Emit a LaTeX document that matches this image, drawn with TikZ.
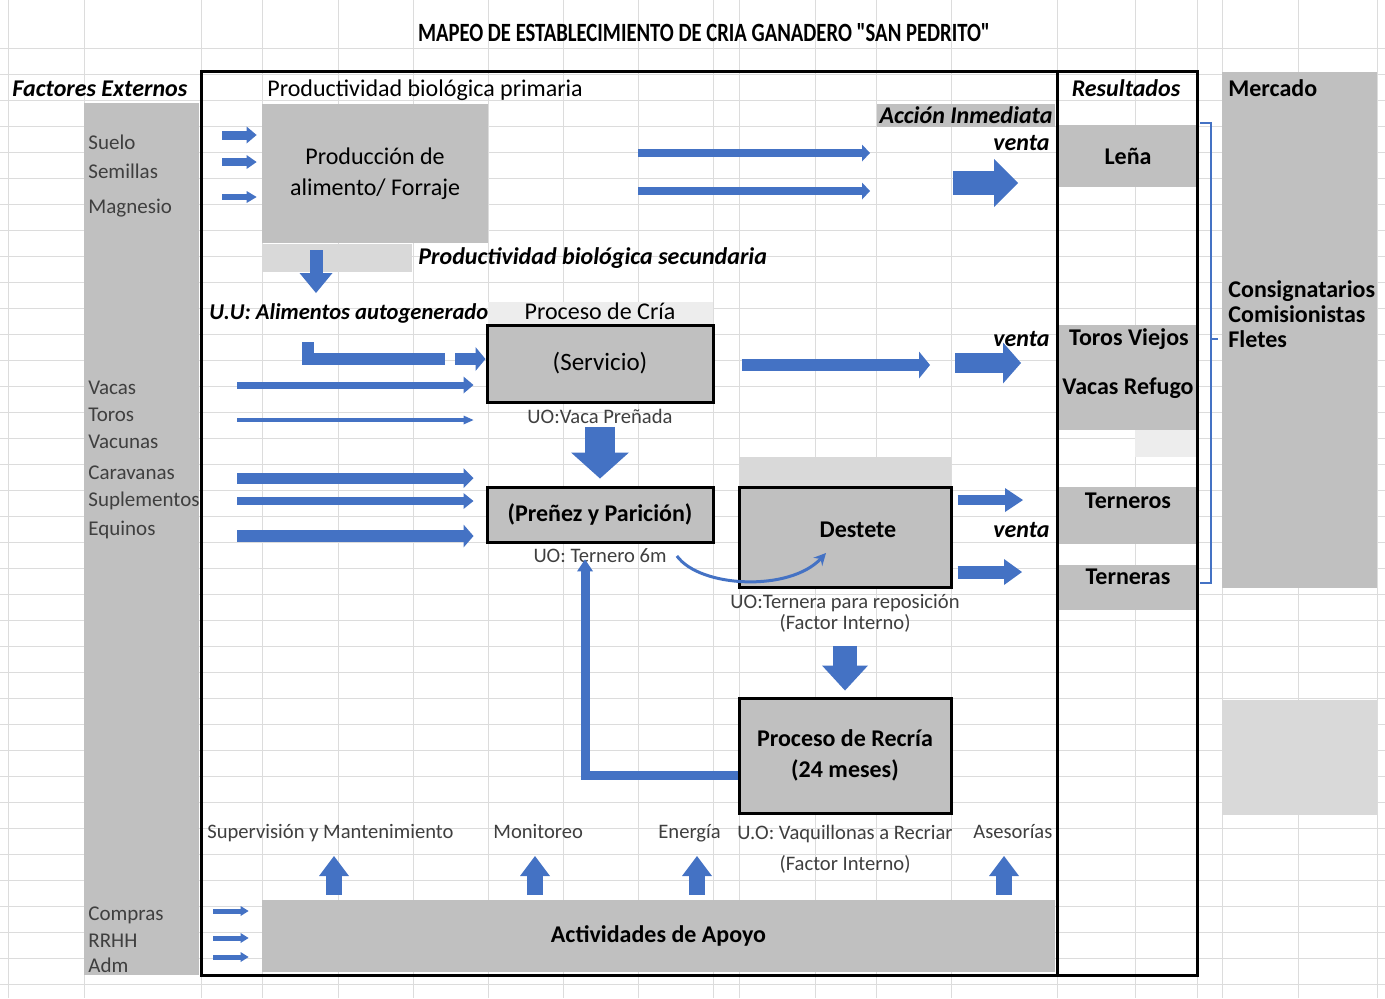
\documentclass[tikz,border=0pt]{standalone}
\usepackage{graphicx}
\usepackage{fontspec}
\setmainfont{Carlito}
\newfontfamily\titlefont{Carlito}
\usetikzlibrary{arrows.meta,positioning}

\definecolor{arrowblue}{HTML}{4472C4}
\definecolor{cellgray}{HTML}{C0C0C0}
\definecolor{softgray}{HTML}{D9D9D9}
\definecolor{palegray}{HTML}{EDEDED}
\definecolor{gridgray}{HTML}{DCDCDC}
\definecolor{inkgray}{HTML}{3F3F3F}

\begin{document}
\begin{tikzpicture}[
		x=0.5pt, y=-0.5pt,
		txt/.style={inner sep=0pt, text=black, font=\fontsize{12}{14}\selectfont},
		factor/.style={txt, anchor=base west, text=inkgray, font=\fontsize{10.5}{12}\selectfont},
		sub/.style={txt, text=inkgray, align=center, font=\fontsize{10.3}{12}\selectfont},
		hdr/.style={txt, font=\fontsize{12}{14}\selectfont\bfseries\itshape},
		venta/.style={hdr, anchor=east},
		strong/.style={txt, font=\fontsize{12}{14}\selectfont\bfseries},
		graycell/.style={rectangle, fill=cellgray, inner sep=0pt, align=center},
		box/.style={graycell, draw=black, line width=1.5pt, font=\fontsize{12}{15.5}\selectfont\bfseries},
		flow/.style n args={3}{draw=arrowblue, line width=#1, -{Triangle[width=#2, length=#3, line width=0pt]}},
		swoop/.style={draw=arrowblue, line width=1.5pt, -{Stealth[length=6pt, width=6pt]}}
	]
		\useasboundingbox (0,0) rectangle (1385,998);

		% Grid
		\foreach \x in {8,84,201,262,338,413,488,563,638,713,739,815,876,951,1057,1135,1197,1222,1298,1377}
			\draw[gridgray, line width=0.5pt] (\x,0) -- (\x,998);
		\foreach \y in {48,74,...,984}
			\draw[gridgray, line width=0.5pt] (0,\y) -- (1385,\y);

		% Cells
		\fill[cellgray] (84,103) rectangle (199,975);
		\fill[cellgray] (1222,72) rectangle (1377,588);
		\fill[softgray] (1222,700) rectangle (1377,815);
		\fill[softgray] (262,244) rectangle (412,272);
		\fill[palegray] (488,302) rectangle (713,326);
		\fill[softgray] (739,457) rectangle (951,487);
		\fill[palegray] (1135,428) rectangle (1197,457);
		\fill[cellgray] (1059,125) rectangle (1197,187);
		\fill[cellgray] (1059,325) rectangle (1197,430);
		\fill[cellgray] (1059,487) rectangle (1197,544);
		\fill[cellgray] (1059,565) rectangle (1197,610);

		% Frame
		\draw[line width=1.5pt] (201,71) rectangle (1197,975);
		\draw[line width=1.5pt] (1057,71) -- (1057,975);

		% Nodes
		\node[txt] (title) at (704,33) {\resizebox{286pt}{9pt}{\titlefont\bfseries MAPEO DE ESTABLECIMIENTO DE CRIA GANADERO "SAN PEDRITO"}};
		\node[hdr, anchor=west] (fext) at (12,89) {Factores Externos};
		\node[txt, anchor=west] (prim) at (267,90) {Productividad biológica primaria};
		\node[hdr] (result) at (1126,88) {Resultados};
		\node[strong, anchor=west] (mercado) at (1228,88) {Mercado};
		\node[strong, anchor=west, align=left, font=\fontsize{12}{12.5}\selectfont\bfseries] (comerc) at (1228,314) {Consignatarios\\Comisionistas\\Fletes};

		\node[graycell, font=\fontsize{12}{15.5}\selectfont, minimum width=113pt, minimum height=69.5pt] (prod) at (375,173.5) {Producción de\\alimento/ Forraje};
		\node[graycell, hdr, minimum width=89pt, minimum height=11.5pt] (accion) at (966,115.5) {Acción Inmediata};
		\node[hdr, anchor=west] (secund) at (418,258) {Productividad biológica secundaria};
		\node[hdr, font=\fontsize{11.3}{13}\selectfont\bfseries\itshape, anchor=west] (uu) at (209,313) {U.U: Alimentos autogenerado};

		\node[box, font=\fontsize{12.5}{14}\selectfont, minimum width=113pt, minimum height=38.5pt] (servicio) at (600,363.5) {(Servicio)};
		\node[txt, above=1.5pt of servicio] (cria) {Proceso de Cría};
		\node[sub, below=2.5pt of servicio] (vacapre) {UO:Vaca Preñada};
		\node[box, minimum width=113pt, minimum height=27.5pt] (prenez) at (600,514.5) {(Preñez y Parición)};
		\node[sub, below=2.5pt of prenez] (ternero) {UO: Ternero 6m};
		\node[box, minimum width=106pt, minimum height=50pt,
			label={[strong, xshift=6.5pt, yshift=3.5pt]center:Destete}] (destete) at (845,537) {};
		\node[sub, below=2.5pt of destete, font=\fontsize{10.3}{10.5}\selectfont] (repos) {UO:Ternera para reposición\\(Factor Interno)};
		\node[box, minimum width=106pt, minimum height=57.5pt] (recria) at (845,755.5) {Proceso de Recría\\(24 meses)};
		\node[sub, below=5pt of recria, font=\fontsize{10.3}{15.5}\selectfont] (vaquill) {U.O: Vaquillonas a Recriar\\(Factor Interno)};
		\node[graycell, strong, minimum width=396.5pt, minimum height=36pt] (apoyo) at (658.5,936) {Actividades de Apoyo};

		\node[venta] (venta1) at (1050,143) {venta};
		\node[venta] (venta2) at (1050,339) {venta};
		\node[venta] (venta3) at (1050,530) {venta};

		\node[strong] (lena) at (1128,156) {Leña};
		\node[strong] (toros) at (1129,339) {Toros Viejos};
		\node[strong] (refugo) at (1128,388) {Vacas Refugo};
		\node[strong] (terneros) at (1128,501) {Terneros};
		\node[strong] (terneras) at (1128,577) {Terneras};

		\node[sub, anchor=base west] (superv) at (207,838) {Supervisión y Mantenimiento};
		\node[sub, anchor=base west] (monit) at (493,838) {Monitoreo};
		\node[sub, anchor=base west] (energia) at (658,838) {Energía};
		\node[sub, anchor=base west] (asesor) at (973,838) {Asesorías};

		\foreach \name/\y [count=\i] in {Suelo/149, Semillas/178, Magnesio/213, Vacas/394, Toros/421, Vacunas/448,
				Caravanas/479, Suplementos/506, Equinos/535, Compras/920, RRHH/947, Adm/972}
			\node[factor] (fac\i) at (88,\y) {\name};

		% Arrows
		\foreach \y/\w/\h [count=\i] in {135/4.5pt/8.5pt, 162/4pt/7pt, 197/3pt/6pt} {
			\coordinate (pin\i) at (222,\y);
			\draw[flow={\w}{\h}{5pt}, shorten >=2.5pt] (pin\i) -- (prod.west |- pin\i);
		}
		\coordinate (pd1) at (316,250);
		\coordinate (pd2) at (316,293);
		\draw[flow={6.5pt}{16.5pt}{10pt}] (pd1) -- (pd2);
		\foreach \y [count=\i] in {153,191} {
			\coordinate (po\i) at (638,\y);
			\coordinate (pe\i) at (870,\y);
			\draw[flow={4pt}{8.5pt}{4pt}] (po\i) -- (pe\i);
		}
		\coordinate (va1) at (953,183);
		\coordinate (vb1) at (1018,183);
		\draw[flow={12pt}{24pt}{12pt}] (va1) -- (vb1);

		\coordinate (uua) at (308,342);
		\coordinate (uub) at (445,359);
		\coordinate (uuc) at (455,359);
		\draw[arrowblue, line width=6pt] (uua) |- (uub);
		\draw[flow={6pt}{12pt}{5pt}] (uuc) -- (servicio.west |- uuc);

		\foreach \y/\w/\h [count=\i] in {385/3.5pt/8.5pt, 420/2pt/4.5pt, 478/5.5pt/10pt, 501/4pt/8pt, 536/6pt/11.5pt} {
			\coordinate (ext\i) at (237,\y);
			\draw[flow={\w}{\h}{5pt}, shorten >=6pt] (ext\i) -- (servicio.west |- ext\i);
		}

		\draw[flow={15pt}{29pt}{13pt}, shorten <=1.5pt, shorten >=3.5pt] (vacapre.south) -- (prenez.north);
		\coordinate (so1) at (930,365);
		\draw[flow={6pt}{13.5pt}{5.5pt}, shorten <=13.5pt] (servicio.east |- so1) -- (so1);
		\coordinate (va2) at (955,363);
		\coordinate (vb2) at (1021,363);
		\draw[flow={10pt}{20.5pt}{9pt}] (va2) -- (vb2);

		\coordinate (dt1) at (1023,500);
		\coordinate (dt2) at (1022,572);
		\draw[flow={5pt}{12pt}{9pt}, shorten <=2.5pt] (destete.east |- dt1) -- (dt1);
		\draw[flow={6.5pt}{13pt}{9pt}, shorten <=2.5pt] (destete.east |- dt2) -- (dt2);

		\coordinate (swend) at (826,553);
		\draw[swoop] ([xshift=5pt]ternero.east) .. controls (700,588) and (790,592) .. (swend);

		\draw[flow={12pt}{23pt}{12.5pt}, shorten <=7pt, shorten >=3pt] (repos.south) -- (recria.north);

		\coordinate (fb) at (585,775);
		\draw[flow={4.5pt}{8pt}{6pt}, shorten >=-2pt] (recria.west |- fb) -- (fb) -- (fb |- ternero.south);

		\foreach \x [count=\i] in {334,535,697,1004} {
			\coordinate (up\i) at (\x,856);
			\draw[flow={8pt}{15pt}{10pt}, shorten <=2.5pt] (apoyo.north -| up\i) -- (up\i);
		}
		\foreach \y [count=\i] in {911,938,957} {
			\coordinate (sa\i) at (213,\y);
			\draw[flow={2.5pt}{5pt}{4pt}, shorten >=6.5pt] (sa\i) -- (apoyo.west |- sa\i);
		}

		% Bracket
		\draw[arrowblue, line width=0.7pt] (1200,123) -| (1211,583) -- (1200,583);
		\draw[arrowblue, line width=0.7pt] (1211,339) -- (1218,339);

	\end{tikzpicture}
\end{document}
